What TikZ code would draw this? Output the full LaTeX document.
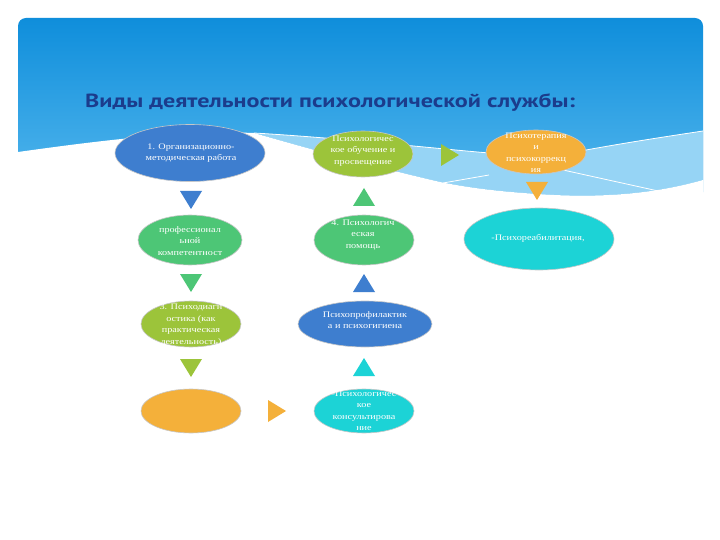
\documentclass[tikz,border=0pt]{standalone}
\usepackage{fontspec}
\setmainfont{Liberation Serif}
\newfontfamily\boxfont{Liberation Serif}[FakeStretch=1.2]
\newfontfamily\titlefont{PT Sans}[FakeStretch=1.27]
\usetikzlibrary{shapes.geometric}
\definecolor{cblue}{HTML}{3E7ECF}
\definecolor{cygreen}{HTML}{9CC43A}
\definecolor{corange}{HTML}{F4B03A}
\definecolor{cgreen}{HTML}{4DC676}
\definecolor{ccyan}{HTML}{1CD3D6}
\definecolor{ctitle}{HTML}{1B3C8C}
\definecolor{bgtop}{HTML}{0F8EDB}
\definecolor{bgbot}{HTML}{55B8EE}
\definecolor{band}{HTML}{96D4F5}
\tikzset{
  ell/.style={ellipse, draw=black!22, line width=0.6pt, inner sep=0pt},
  txt/.style={text=white, font=\boxfont\fontsize{8.5}{11.5}\selectfont, align=center, inner sep=0pt},
  wline/.style={draw=white, line width=0.8pt},
}
\newcommand\tridn[4]{\fill[#1] (#2-11,#3-9) -- (#2+11,#3-9) -- (#2,#3+9) -- cycle;}
\newcommand\triup[4]{\fill[#1] (#2-11,#3+9) -- (#2+11,#3+9) -- (#2,#3-9) -- cycle;}
\newcommand\trirt[4]{\fill[#1] (#2-9,#3-11) -- (#2-9,#3+11) -- (#2+9,#3) -- cycle;}
\begin{document}
\begin{tikzpicture}[x=1pt,y=-1pt]
\useasboundingbox (0,0) rectangle (720,540);
\fill[white] (0,0) rectangle (720,540);
% panel
\shade[top color=bgtop, bottom color=bgbot, rounded corners=8pt] (18,18) rectangle (703,200);
% light band
\fill[band] (254,133) .. controls (340,138) and (430,148) .. (489,153) -- (586,150) .. controls (630,142) and (670,136) .. (703,131) -- (703,180) .. controls (650,195) and (600,197) .. (554,195) .. controls (500,192) and (470,188) .. (440,182) .. controls (380,168) and (320,152) .. (254,133) -- cycle;
% white wave
\fill[white] (18,152) .. controls (90,142) and (180,130) .. (254,133) .. controls (320,152) and (380,168) .. (440,182) .. controls (470,188) and (500,192) .. (554,195) .. controls (600,197) and (650,195) .. (703,180) -- (703,540) -- (18,540) -- cycle;
% white lines
\draw[wline] (254,133) .. controls (340,138) and (430,148) .. (489,153);
\draw[wline] (586,150) .. controls (630,142) and (670,136) .. (703,131);
\draw[wline] (443,183) -- (489,175);
\draw[wline] (563,170) -- (690,198);
% title
\node[anchor=base west, inner sep=0pt, text=ctitle, font=\titlefont\bfseries\fontsize{19}{22}\selectfont] (title) at (85,108) {Виды деятельности психологической службы:};
% ellipses
\node[ell, fill=cblue, minimum width=150pt, minimum height=57pt] (e1) at (190,153) {};
\node[ell, fill=cygreen, minimum width=100pt, minimum height=46pt] (e2) at (363,154) {};
\node[ell, fill=corange, minimum width=100pt, minimum height=44pt] (e3) at (536,152) {};
\node[ell, fill=cgreen, minimum width=104pt, minimum height=50pt] (e4) at (190,240) {};
\node[ell, fill=cgreen, minimum width=100pt, minimum height=50pt] (e5) at (364,240) {};
\node[ell, fill=ccyan, minimum width=150pt, minimum height=62pt] (e6) at (539,239) {};
\node[ell, fill=cygreen, minimum width=100pt, minimum height=46pt] (e7) at (191,324) {};
\node[ell, fill=cblue, minimum width=134pt, minimum height=46pt] (e8) at (365,324) {};
\node[ell, fill=corange, minimum width=100pt, minimum height=44pt] (e9) at (191,411) {};
\node[ell, fill=ccyan, minimum width=100pt, minimum height=44pt] (e10) at (364,411) {};
% texts
\node[txt] (t1) at (191,153) {1. Организационно-\\методическая работа};
\node[txt] (t2) at (363,151) {Психологичес\\кое обучение и\\просвещение};
\node[txt] (t3) at (536,152.5) {Психотерапия\\и\\психокоррекц\\ия};
\node[txt] (t4) at (190,241) {профессионал\\ьной\\компетентност};
\node[txt] (t5) at (363,235) {4. Психологич\\еская\\помощь};
\node[txt] (t6) at (538,238) {-Психореабилитация,};
\node[txt] (t7) at (191,325) {3. Психодиагн\\остика (как\\практическая\\деятельность)};
\node[txt] (t8) at (365,320) {Психопрофилактик\\а и психогигиена};
\node[txt] (t10) at (364,411) {-Психологичес\\кое\\консультирова\\ние};
% triangles
\tridn{cblue}{191}{200}{}
\triup{cgreen}{364}{197}{}
\tridn{corange}{537}{191}{}
\trirt{cygreen}{450}{155}{}
\tridn{cgreen}{191}{283}{}
\triup{cblue}{364}{283}{}
\tridn{cygreen}{191}{368}{}
\triup{ccyan}{364}{367}{}
\trirt{corange}{277}{411}{}
\end{tikzpicture}
\end{document}
